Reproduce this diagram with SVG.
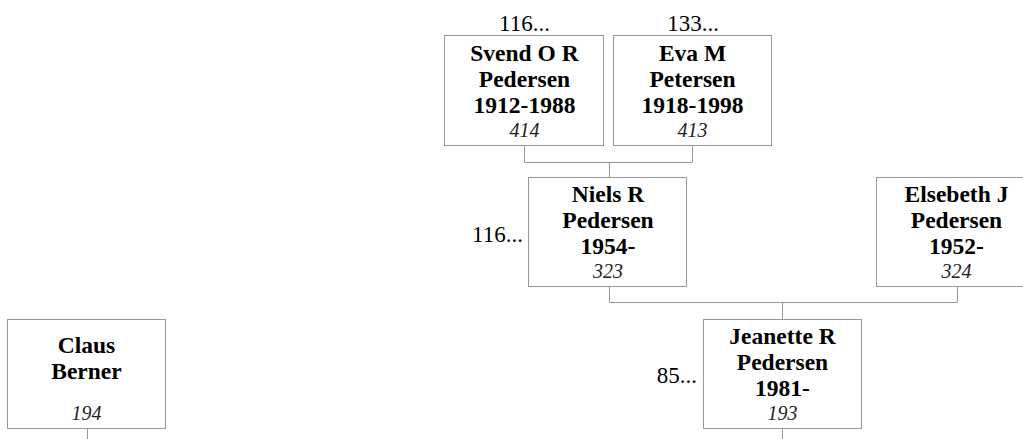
<svg xmlns="http://www.w3.org/2000/svg" width="1023" height="439" viewBox="0 0 1023 439">
<style>
.box{fill:#fff;stroke:#999;stroke-width:1}
.ln{fill:none;stroke:#999;stroke-width:1}
text{font-family:'Liberation Serif','Tinos','DejaVu Serif',serif}
.nm{font-weight:bold;font-size:23.5px;fill:#000;text-anchor:middle}
.id{font-style:italic;font-size:20px;fill:#222;text-anchor:middle}
.lb{font-size:23px;fill:#000}
</style>
<rect width="1023" height="439" fill="#fff"/>
<g id="connectors">
<path class="ln" d="M524.5,145.5V162.5H692.5V145.5M609.5,162.5V177.5"/>
<path class="ln" d="M609.5,286.5V302.5H957.5V286.5M782.5,302.5V319.5"/>
<path class="ln" d="M782.5,428.5V439M87.5,428.5V439"/>
</g>
<g id="svend">
<text class="lb" x="524.5" y="31" text-anchor="middle">116...</text>
<rect class="box" x="444.5" y="35.5" width="159" height="110"/>
<text class="nm" x="524.5" y="61">Svend O R</text>
<text class="nm" x="524.5" y="87">Pedersen</text>
<text class="nm" x="524.5" y="113">1912-1988</text>
<text class="id" x="524.5" y="137">414</text>
</g>
<g id="eva">
<text class="lb" x="693" y="31" text-anchor="middle">133...</text>
<rect class="box" x="613.5" y="35.5" width="158" height="110"/>
<text class="nm" x="692.5" y="61">Eva M</text>
<text class="nm" x="692.5" y="87">Petersen</text>
<text class="nm" x="692.5" y="113">1918-1998</text>
<text class="id" x="692.5" y="137">413</text>
</g>
<g id="niels">
<text class="lb" x="523" y="242" text-anchor="end">116...</text>
<rect class="box" x="528.5" y="177.5" width="158" height="109"/>
<text class="nm" x="608" y="202">Niels R</text>
<text class="nm" x="608" y="228">Pedersen</text>
<text class="nm" x="608" y="254">1954-</text>
<text class="id" x="608" y="278">323</text>
</g>
<g id="elsebeth">
<rect class="box" x="876.5" y="177.5" width="160" height="109"/>
<text class="nm" x="956.5" y="202">Elsebeth J</text>
<text class="nm" x="956.5" y="228">Pedersen</text>
<text class="nm" x="956.5" y="254">1952-</text>
<text class="id" x="956.5" y="278">324</text>
</g>
<g id="jeanette">
<text class="lb" x="697" y="383" text-anchor="end">85...</text>
<rect class="box" x="703.5" y="319.5" width="158" height="109"/>
<text class="nm" x="782.5" y="344">Jeanette R</text>
<text class="nm" x="782.5" y="370">Pedersen</text>
<text class="nm" x="782.5" y="396">1981-</text>
<text class="id" x="782.5" y="420">193</text>
</g>
<g id="claus">
<rect class="box" x="7.5" y="319.5" width="158" height="109"/>
<text class="nm" x="86.5" y="353">Claus</text>
<text class="nm" x="86.5" y="379">Berner</text>
<text class="id" x="86.5" y="420">194</text>
</g>
</svg>
